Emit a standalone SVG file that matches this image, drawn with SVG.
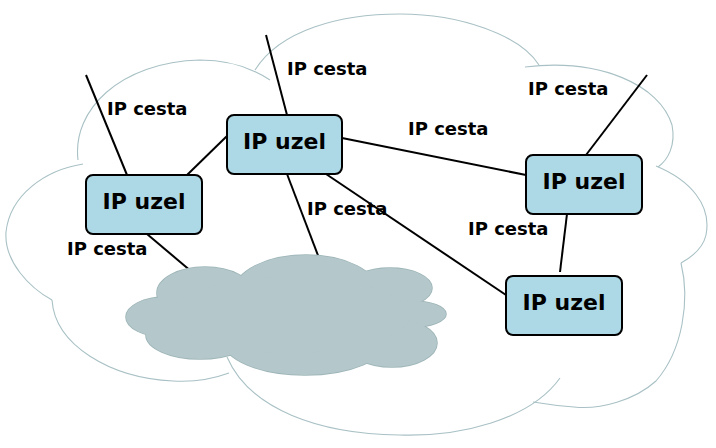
<svg xmlns="http://www.w3.org/2000/svg" width="716" height="448" viewBox="0 0 716 448">
<style>
.outline{fill:none;stroke:#a9c1c5;stroke-width:1.1}
.gs{fill:#b4c7ca;stroke:#9db5b8;stroke-width:1.6}
.gf{fill:#b4c7ca;stroke:none}
.conn line{stroke:#000;stroke-width:2}
.node rect{fill:#add8e6;stroke:#000;stroke-width:2}
.node text{font-family:"DejaVu Sans",sans-serif;font-weight:bold;font-size:22px;fill:#000;text-anchor:middle}
.lbl{font-family:"DejaVu Sans",sans-serif;font-weight:bold;font-size:18px;fill:#000}
</style>
<rect width="716" height="448" fill="#fff"/>
<g id="big-cloud" class="outline">
<path d="M83,164 C45,170 10,195 6,232 C4,262 30,288 52,300"/>
<path d="M78,160 C72,110 120,62 200,60 C230,60 252,68 270,80"/>
<path d="M255,70 C280,30 340,14 400,14 C460,14 520,35 539,65"/>
<path d="M525,67 C600,58 660,85 672,125 C676,145 668,160 658,167"/>
<path d="M656,166 C690,180 712,205 706,235 C703,248 692,257 681,263"/>
<path d="M681,263 C690,300 683,350 656,381 C635,400 600,410 574,407 C560,406 545,404 533,402"/>
<path d="M560,378 C530,420 460,437 399,435 C320,434 250,410 227,357"/>
<path d="M229,373 C210,380 190,382 173,381 C110,378 55,345 52,300"/>
</g>
<g id="conn" class="conn">
<line x1="86" y1="75" x2="127" y2="175"/>
<line x1="266" y1="35" x2="287" y2="115"/>
<line x1="187" y1="175" x2="227" y2="136"/>
<line x1="342" y1="138" x2="526" y2="175"/>
<line x1="586" y1="155" x2="647" y2="75"/>
<line x1="326" y1="174" x2="506" y2="295"/>
<line x1="287" y1="174" x2="319" y2="258"/>
<line x1="147" y1="234" x2="192" y2="272"/>
<line x1="567" y1="214" x2="560" y2="272"/>
</g>
<g id="gray-cloud">
<g class="gs">
<ellipse cx="205" cy="293" rx="48" ry="26"/>
<ellipse cx="166" cy="317" rx="40" ry="20"/>
<ellipse cx="200" cy="335" rx="54" ry="24"/>
<ellipse cx="306" cy="292" rx="72" ry="37"/>
<ellipse cx="305" cy="340" rx="82" ry="35"/>
<ellipse cx="390" cy="288" rx="42" ry="20"/>
<ellipse cx="412" cy="314" rx="34" ry="13"/>
<ellipse cx="392" cy="343" rx="45" ry="24"/>
</g>
<g class="gf">
<ellipse cx="205" cy="293" rx="48" ry="26"/>
<ellipse cx="166" cy="317" rx="40" ry="20"/>
<ellipse cx="200" cy="335" rx="54" ry="24"/>
<ellipse cx="306" cy="292" rx="72" ry="37"/>
<ellipse cx="305" cy="340" rx="82" ry="35"/>
<ellipse cx="390" cy="288" rx="42" ry="20"/>
<ellipse cx="412" cy="314" rx="34" ry="13"/>
<ellipse cx="392" cy="343" rx="45" ry="24"/>
<ellipse cx="290" cy="315" rx="120" ry="38"/>
</g>
</g>
<g id="node1" class="node"><rect x="86" y="175" width="116" height="59" rx="7"/><text x="144" y="209">IP uzel</text></g>
<g id="node2" class="node"><rect x="227" y="115" width="115" height="59" rx="7"/><text x="284.5" y="149">IP uzel</text></g>
<g id="node3" class="node"><rect x="526" y="155" width="116" height="59" rx="7"/><text x="584" y="189">IP uzel</text></g>
<g id="node4" class="node"><rect x="506" y="276" width="116" height="59" rx="7"/><text x="564" y="310">IP uzel</text></g>
<g id="labels">
<text class="lbl" x="107" y="115">IP cesta</text>
<text class="lbl" x="287" y="75">IP cesta</text>
<text class="lbl" x="528" y="95">IP cesta</text>
<text class="lbl" x="408" y="135">IP cesta</text>
<text class="lbl" x="307" y="215">IP cesta</text>
<text class="lbl" x="67" y="255">IP cesta</text>
<text class="lbl" x="468" y="235">IP cesta</text>
</g>
</svg>
